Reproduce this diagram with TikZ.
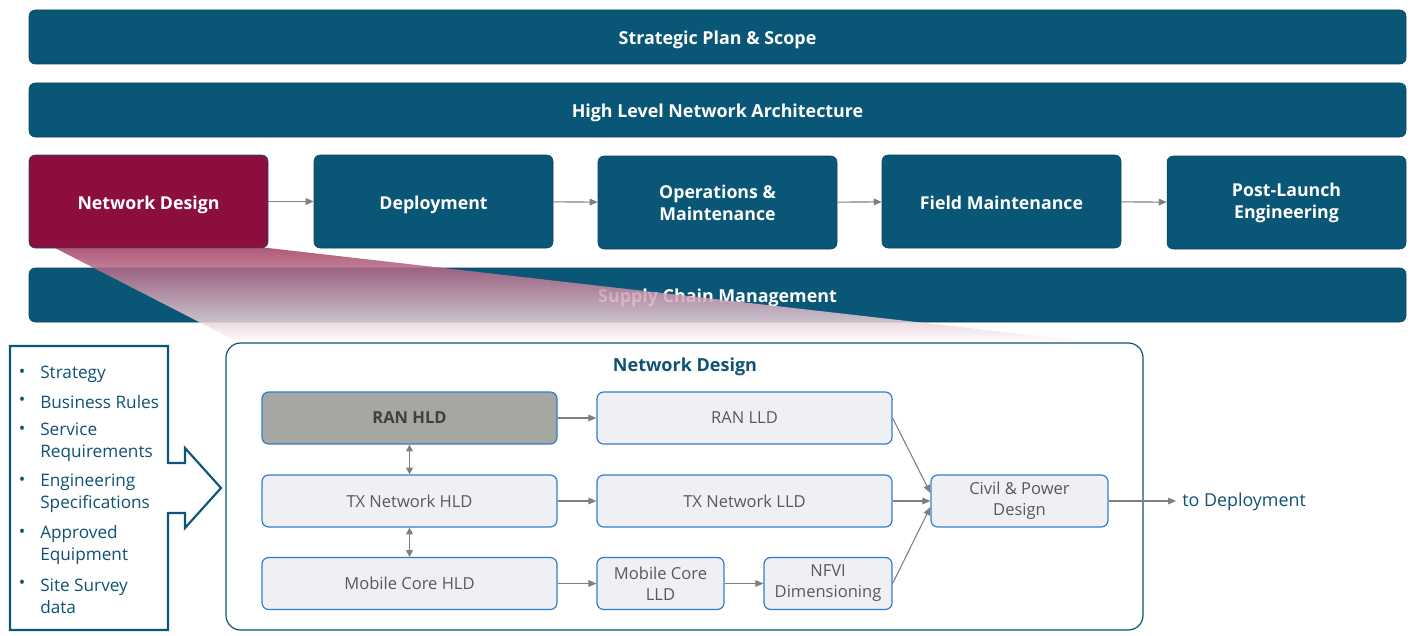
\documentclass[tikz,border=0pt]{standalone}
\usepackage{fontspec}
\setmainfont{Open Sans}
\usetikzlibrary{arrows.meta,calc}
\definecolor{teal1}{HTML}{0A5676}
\definecolor{maroon1}{HTML}{8C0E3E}
\definecolor{boxfill}{HTML}{EEF0F4}
\definecolor{boxline}{HTML}{2F7DD0}
\definecolor{hldgray}{HTML}{A5A7A3}
\definecolor{txt}{HTML}{595959}
\definecolor{arr}{HTML}{7F7F7F}
\definecolor{navy}{HTML}{0F5273}
\begin{document}
\begin{tikzpicture}[x=0.75pt,y=-0.75pt,
  bar/.style={fill=teal1, draw=teal1!80!black, rounded corners=4.5pt, text=white,
    font=\bfseries\fontsize{13.4}{16.5}\selectfont, minimum height=40.5pt, inner sep=0pt},
  oneline/.style={text height=14.6pt, text depth=3.2pt},
  phase/.style={bar, minimum width=179.25pt, minimum height=69.75pt, align=center,
    font=\bfseries\fontsize{13.3}{16.5}\selectfont},
  ibox/.style={fill=boxfill, draw=boxline, line width=0.9pt, rounded corners=5pt, text=txt,
    font=\fontsize{12.4}{15.7}\selectfont, align=center, minimum height=39pt, inner sep=0pt},
  flow/.style={draw=arr, line width=0.8pt, -{Triangle[length=6pt,width=5pt]}},
  biflow/.style={draw=arr, line width=0.8pt, {Triangle[length=5pt,width=5pt]}-{Triangle[length=5pt,width=5pt]}},
  listtext/.style={text=navy, font=\fontsize{12.9}{16.5}\selectfont, align=left, anchor=west, inner sep=0pt},
  bullet/.style={text=navy, font=\fontsize{12.9}{16.5}\selectfont, inner sep=0pt},
]
\useasboundingbox (0,0) rectangle (1416,635);

% top bars
\node[bar, oneline, minimum width=1032.75pt] (b1) at (717.5,37) {Strategic Plan \& Scope};
\node[bar, oneline, minimum width=1032.75pt] (b2) at (717.5,110) {High Level Network Architecture};

% phases
\node[phase, oneline, fill=maroon1, draw=teal1] (p1) at (148.5,201.5) {Network Design};
\node[phase, oneline] (p2) at (433.5,201.5) {Deployment};
\node[phase] (p3) at (717.5,202.5) {Operations \&\\Maintenance};
\node[phase, oneline] (p4) at (1001.5,201.5) {Field Maintenance};
\node[phase] (p5) at (1286.5,202.5) {Post-Launch\\Engineering};
\draw[flow] (p1) -- (p2);
\draw[flow] (p2) -- (p3);
\draw[flow] (p3) -- (p4);
\draw[flow] (p4) -- (p5);

\node[bar, oneline, minimum width=1032.75pt] (b3) at (717.5,295) {Supply Chain Management};

% zoom trapezoid
\shade[top color=maroon1!80!white, bottom color=white, opacity=0.85]
  (55,248) -- (268,248) -- (1100,343) -- (240,343) -- cycle;

% network design detail box
\node[draw=teal1, line width=0.9pt, fill=white, rounded corners=11pt,
  minimum width={917*0.75pt}, minimum height={287*0.75pt}, inner sep=0pt] (nd) at (684.5,486.5) {};
\node[text=navy, font=\bfseries\fontsize{13.5}{16}\selectfont] (ndt) at (685,366.5) {Network Design};

\node[ibox, fill=hldgray, text=black!75, font=\bfseries\fontsize{12.4}{15.7}\selectfont,
  minimum width={295*0.75pt}] (ranhld) at (409.5,418) {RAN HLD};
\node[ibox, minimum width={295*0.75pt}] (txhld) at (409.5,501) {TX Network HLD};
\node[ibox, minimum width={295*0.75pt}] (mchld) at (409.5,583.5) {Mobile Core HLD};
\node[ibox, minimum width={295*0.75pt}] (ranlld) at (744.5,418) {RAN LLD};
\node[ibox, minimum width={295*0.75pt}] (txlld) at (744.5,501) {TX Network LLD};
\node[ibox, minimum width={127*0.75pt}] (mclld) at (660.5,583.5) {Mobile Core\\LLD};
\node[ibox, minimum width={128*0.75pt}] (nfvi) at (828,583.5) {NFVI\\Dimensioning};
\node[ibox, minimum width={177*0.75pt}] (civil) at (1019.5,501) {Civil \& Power\\Design};

\draw[flow] (ranhld) -- (ranlld);
\draw[flow] (txhld) -- (txlld);
\draw[flow] (mchld) -- (mclld);
\draw[flow] (mclld) -- (nfvi);
\draw[biflow] (ranhld) -- (txhld);
\draw[biflow] (txhld) -- (mchld);
\draw[flow] (ranlld.east) -- ($(civil.west)+(0,-8)$);
\draw[flow] (txlld) -- (civil);
\draw[flow] (nfvi.east) -- ($(civil.west)+(0,6)$);

\node[text=navy, font=\fontsize{13.4}{16}\selectfont, anchor=west, inner sep=0pt] (todep) at (1182,502) {to Deployment};
\draw[flow] (civil) -- ($(todep.west)+(-6,-1)$);

% input list with arrow
\draw[draw=teal1, line width=1.6pt, fill=white]
  (10,346) -- (168,346) -- (168,463) -- (185,463) -- (185,448) -- (221,488)
  -- (185,528) -- (185,513) -- (168,513) -- (168,630) -- (10,630) -- cycle;
\node[bullet] (u1) at (22,373) {•};
\node[listtext] (l1) at (40,374) {Strategy};
\node[bullet] (u2) at (22,401) {•};
\node[listtext] (l2) at (40,402) {Business Rules};
\node[bullet] (u3) at (22,430) {•};
\node[listtext] (l3) at (40,442) {Service\\Requirements};
\node[bullet] (u4) at (22,481) {•};
\node[listtext] (l4) at (40,493) {Engineering\\Specifications};
\node[bullet] (u5) at (22,533) {•};
\node[listtext] (l5) at (40,545) {Approved\\Equipment};
\node[bullet] (u6) at (22,584) {•};
\node[listtext] (l6) at (40,596) {Site Survey\\data};
\end{tikzpicture}
\end{document}
